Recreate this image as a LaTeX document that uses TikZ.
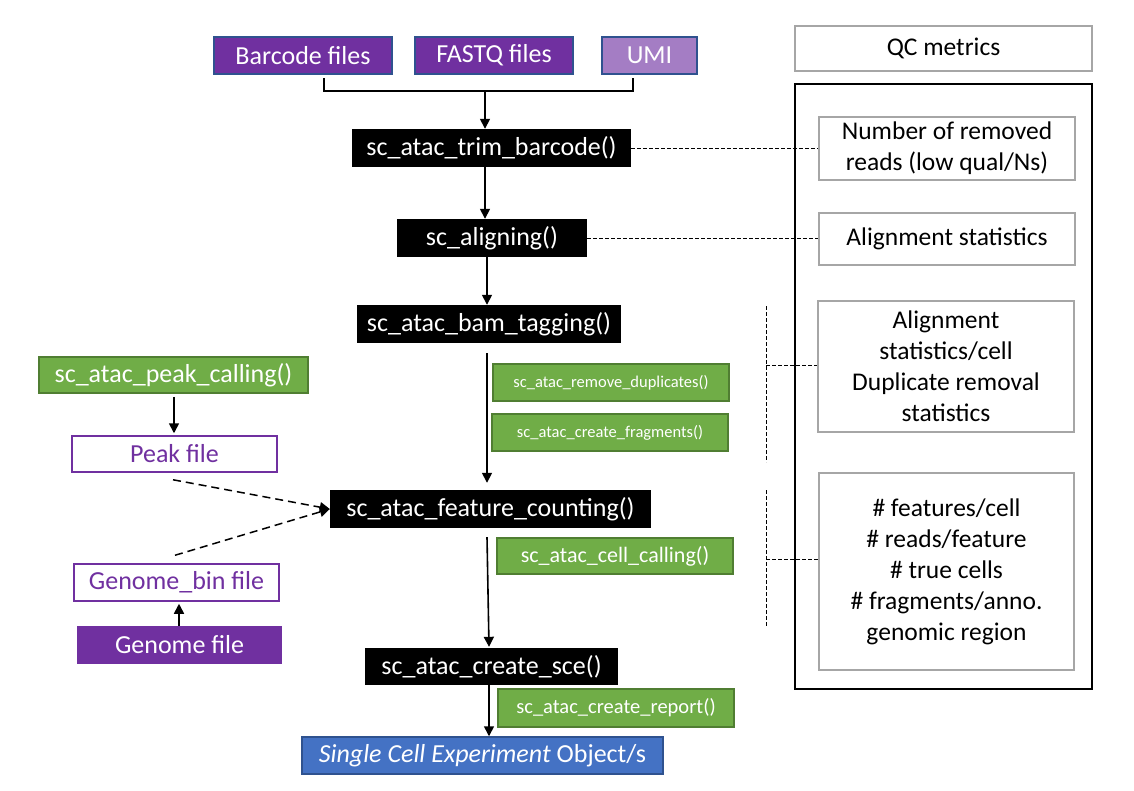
\documentclass[tikz,border=0pt]{standalone}
\usepackage{fontspec}
\setmainfont{Carlito}
\usetikzlibrary{arrows.meta,calc}
\definecolor{purp}{HTML}{7030A0}
\definecolor{lpurp}{HTML}{A47DC4}
\definecolor{bord}{HTML}{2F528F}
\definecolor{grn}{HTML}{70AD47}
\definecolor{grnb}{HTML}{507E32}
\definecolor{blu}{HTML}{4472C4}
\definecolor{gry}{HTML}{A6A6A6}
\begin{document}
\begin{tikzpicture}[x=1pt,y=-1pt,
 box/.style={rectangle, inner sep=0pt, align=center},
 big/.style={font=\fontsize{26}{31}\selectfont},
 blk/.style={box, big, fill=black, text=white},
 inp/.style={box, big, fill=purp, draw=bord, line width=1.5pt, text=white},
 gbig/.style={box, big, fill=grn, draw=grnb, line width=1.5pt, text=white},
 gmid/.style={box, font=\fontsize{20.5}{24}\selectfont, fill=grn, draw=grnb, line width=1.5pt, text=white},
 gsml/.style={box, font=\fontsize{16.5}{20}\selectfont, fill=grn, draw=grnb, line width=1.5pt, text=white},
 fileb/.style={box, big, draw=purp, line width=1.5pt, text=purp, fill=white},
 qc/.style={box, font=\fontsize{25.5}{31}\selectfont, draw=gry, line width=2pt, text=black},
 arr/.style={line width=1.6pt, -{Triangle[length=10pt,width=10pt]}},
 dline/.style={line width=0.8pt, dash pattern=on 4pt off 2pt},
 darr/.style={line width=1.5pt, dash pattern=on 8pt off 5pt, -{Triangle[length=10pt,width=10pt]}}
]
\useasboundingbox (0,0) rectangle (1134,790);

% inputs
\node[inp, minimum width=178, minimum height=37] (barcode) at (303,55.5) {Barcode files};
\node[inp, minimum width=158, minimum height=37] (fastq) at (494,55.5) {FASTQ files};
\node[inp, fill=lpurp, minimum width=95, minimum height=37] (umi) at (649.5,55.5) {UMI};

% main pipeline
\node[blk, minimum width=279, minimum height=38] (trim) at (491.5,148) {sc\_atac\_trim\_barcode()};
\node[blk, minimum width=190, minimum height=38] (align) at (492,238) {sc\_aligning()};
\node[blk, minimum width=264, minimum height=38] (bam) at (489,324) {sc\_atac\_bam\_tagging()};
\node[gsml, minimum width=236, minimum height=37] (remdup) at (611,382.5) {sc\_atac\_remove\_duplicates()};
\node[gsml, minimum width=236, minimum height=37] (frag) at (610,432.5) {sc\_atac\_create\_fragments()};
\node[blk, minimum width=321, minimum height=38] (feat) at (490.5,509) {sc\_atac\_feature\_counting()};
\node[gmid, font=\fontsize{22}{26}\selectfont, minimum width=236, minimum height=36] (cell) at (615,556) {sc\_atac\_cell\_calling()};
\node[blk, minimum width=253, minimum height=37] (sce) at (491.5,666.5) {sc\_atac\_create\_sce()};
\node[gmid, minimum width=236, minimum height=38] (report) at (616,708) {sc\_atac\_create\_report()};
\node[box, big, fill=blu, draw=bord, line width=1.5pt, text=white, minimum width=361, minimum height=37] (obj) at (482.5,755.5) {\textit{Single Cell Experiment} Object/s};

% left side
\node[gbig, minimum width=269, minimum height=36] (peakc) at (173.5,375) {sc\_atac\_peak\_calling()};
\node[fileb, minimum width=205, minimum height=36] (peak) at (174.5,454) {Peak file};
\node[fileb, minimum width=205, minimum height=37] (gbin) at (176.5,582.5) {Genome\_bin file};
\node[box, big, fill=purp, text=white, minimum width=205, minimum height=38] (genome) at (179.5,645) {Genome file};

% QC side
\node[qc, minimum width=297, minimum height=45] (qctitle) at (943.5,48.5) {QC metrics};
\node[box, draw=black, line width=2pt, minimum width=297, minimum height=605] (frame) at (943.5,386.5) {};
\node[qc, minimum width=256, minimum height=63] (q1) at (947,148.5) {Number of removed\\reads (low qual/Ns)};
\node[qc, minimum width=256, minimum height=52] (q2) at (947,239) {Alignment statistics};
\node[qc, minimum width=256, minimum height=131] (q3) at (946,366.5) {Alignment\\statistics/cell\\Duplicate removal\\statistics};
\node[qc, minimum width=255, minimum height=197] (q4) at (946.5,571.5) {\# features/cell\\\# reads/feature\\\# true cells\\\# fragments/anno.\\genomic region};

% bracket from inputs
\coordinate (bl) at (324,78);
\coordinate (br) at (633,78);
\coordinate (bm) at (485,91);
\draw[line width=1.6pt] (bl) -- (bl |- bm) -- (br |- bm) -- (br);
\draw[arr] (bm) -- (trim.north -| bm);

% main arrows
\coordinate (ax) at (487,0);
\coordinate (bx) at (489,0);
\draw[arr] (trim.south -| bm) -- (align.north -| bm);
\draw[arr] (align.south -| ax) -- (bam.north -| ax);
\draw[arr] ($(bam.south -| ax)+(0,10)$) -- ($(feat.north -| ax)+(0,-7)$);
\draw[arr] ($(feat.south -| ax)+(0,9)$) -- ($(sce.north -| bx)+(0,-1)$);
\draw[arr] (sce.south -| bx) -- (obj.north -| bx);

% left arrows
\draw[arr] ($(peakc.south)+(0.5,3)$) -- ($(peak.north)+(-0.5,-2)$);
\draw[arr] ($(genome.north)+(-0.5,0)$) -- ($(gbin.south)+(2.5,2)$);
\draw[darr] ($(peak.south)+(-1.5,7)$) -- (feat.west);
\draw[darr] ($(gbin.north)+(-1.5,-8)$) -- (feat.west);

% QC connectors
\draw[dline] (trim.east) -- (trim.east -| q1.west);
\draw[dline] (align.east) -- (align.east -| q2.west);
\coordinate (v1t) at (766,306);
\coordinate (v1b) at (766,462);
\coordinate (v1m) at (766,365);
\draw[dline] (v1t) -- (v1b);
\draw[dline] (v1m) -- (v1m -| q3.west);
\coordinate (v2t) at (766,490);
\coordinate (v2b) at (766,627);
\coordinate (v2m) at (766,559);
\draw[dline] (v2t) -- (v2b);
\draw[dline] (v2m) -- (v2m -| q4.west);
\end{tikzpicture}
\end{document}
